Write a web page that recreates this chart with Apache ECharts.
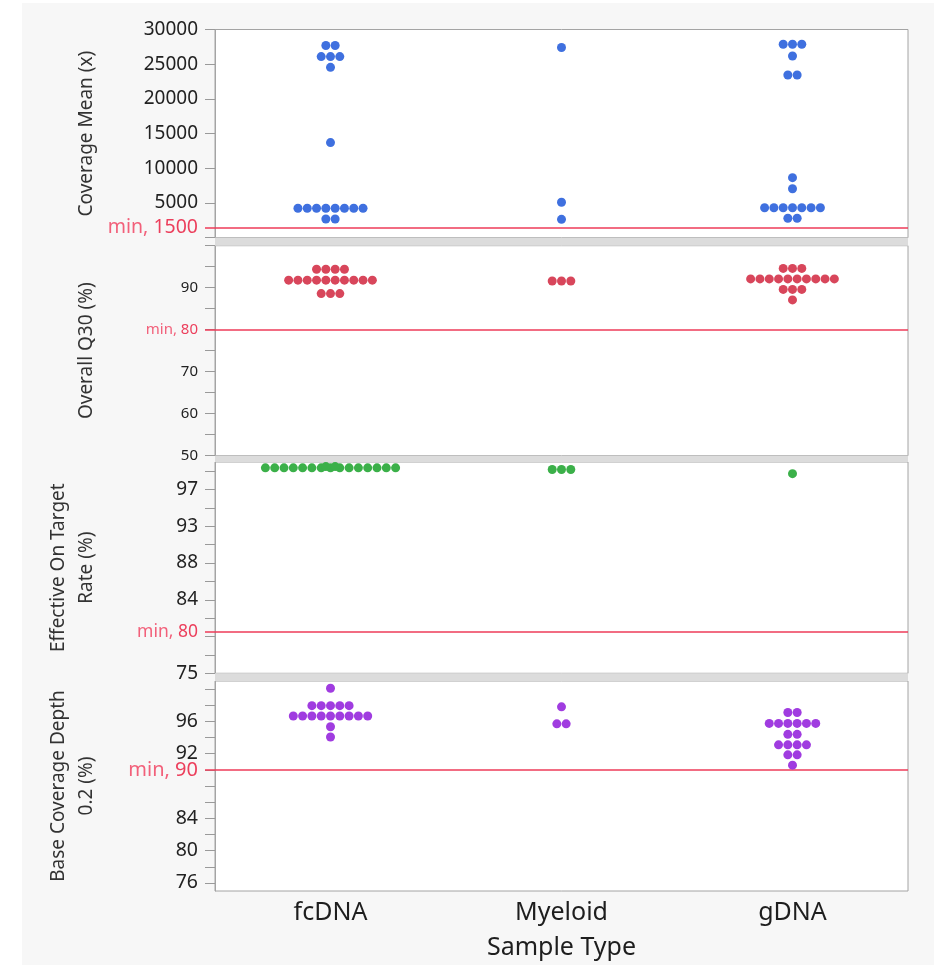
<!DOCTYPE html>
<html>
<head>
<meta charset="utf-8">
<script src="https://cdn.jsdelivr.net/npm/echarts@6/dist/echarts.min.js"></script>
<style>
  html, body { margin: 0; padding: 0; background: #ffffff; }
  #bg { position: absolute; left: 22px; top: 3px; width: 912px; height: 962px; background: #f7f7f7; }
  #chart { position: absolute; left: 0; top: 0; width: 934px; height: 967px; }
</style>
</head>
<body>
<div id="bg"></div>
<div id="chart"></div>
<script>
// ---------------- DATA ----------------
const categories = ['fcDNA', 'Myeloid', 'gDNA'];

// Coverage Mean (x)
const covMeanFcDNA = [27700, 27700, 26100, 26100, 26100, 24550, 13700,
  4240, 4240, 4240, 4240, 4240, 4240, 4240, 4240, 2700, 2700];
const covMeanMyeloid = [27400, 5100, 2650];
const covMeanGDNA = [27870, 27870, 27870, 26180, 23440, 23440, 8650, 7060,
  4320, 4320, 4320, 4320, 4320, 4320, 4320, 2800, 2800];

// Overall Q30 (%)
const q30FcDNA = [94.4, 94.4, 94.4, 94.4,
  91.8, 91.8, 91.8, 91.8, 91.8, 91.8, 91.8, 91.8, 91.8, 91.8,
  88.6, 88.6, 88.6];
const q30Myeloid = [91.6, 91.6, 91.6];
const q30GDNA = [94.6, 94.6, 94.6,
  92.1, 92.1, 92.1, 92.1, 92.1, 92.1, 92.1, 92.1, 92.1, 92.1,
  89.6, 89.6, 89.6, 87.1];

// Effective On Target Rate (%)
const onTargetFcDNA = [99.6, 99.6, 99.6, 99.6, 99.6, 99.6, 99.6, 99.6,
  99.6, 99.6, 99.6, 99.6, 99.6, 99.6, 99.6, 99.75, 99.75];
const onTargetMyeloid = [99.4, 99.4, 99.4];
const onTargetGDNA = [98.9];

// Base Coverage Depth 0.2 (%)
const depthFcDNA = [100.1, 97.95, 97.95, 97.95, 97.95, 97.95,
  96.67, 96.67, 96.67, 96.67, 96.67, 96.67, 96.67, 96.67, 96.67, 95.34, 94.06];
const depthMyeloid = [97.8, 95.7, 95.7];
const depthGDNA = [97.1, 97.1, 95.75, 95.75, 95.75, 95.75, 95.75, 95.75,
  94.4, 94.4, 93.1, 93.1, 93.1, 93.1, 91.86, 91.86, 90.58];

// Minimum thresholds
const covMeanMin = 1500;
const q30Min = 80;
const onTargetMin = 80;
const depthMin = 90;

// Axis ticks and labels
const covMeanTicks = [0, 5000, 10000, 15000, 20000, 25000, 30000];
const covMeanLabels = [5000, 10000, 15000, 20000, 25000, 30000];
const q30Ticks = [50, 55, 60, 65, 70, 75, 80, 85, 90, 95, 100];
const q30Labels = [50, 60, 70, 90];
const onTargetTicks = [75, 77.2, 79.4, 81.6, 83.8, 86, 88.2, 90.4, 92.6, 94.8, 97, 99.2];
const onTargetLabels = [75, 83.8, 88.2, 92.6, 97];
const depthTicks = [76, 78, 80, 82, 84, 86, 88, 90, 92, 94, 96, 98, 100];
const depthLabels = [76, 80, 84, 92, 96];

// ---------------- LAYOUT / STYLE ----------------
const FONT = '"Noto Sans", "Open Sans", sans-serif';
const LEFT = 215, RIGHT = 26;
const panels = [
  { name: 'Coverage Mean (x)', top: 29.5, height: 208.2, min: 0, max: 30000,
    data: [covMeanFcDNA, covMeanMyeloid, covMeanGDNA], thr: covMeanMin,
    ticks: covMeanTicks, labels: covMeanLabels, color: '#3f70df', fs: 19, mfs: 19.5 },
  { name: 'Overall Q30 (%)', top: 245.7, height: 210, min: 50, max: 100,
    data: [q30FcDNA, q30Myeloid, q30GDNA], thr: q30Min,
    ticks: q30Ticks, labels: q30Labels, color: '#d8465b', fs: 15, mfs: 15 },
  { name: 'Effective On Target\nRate (%)', top: 462, height: 211.3, min: 75, max: 100.3,
    data: [onTargetFcDNA, onTargetMyeloid, onTargetGDNA], thr: onTargetMin,
    ticks: onTargetTicks, labels: onTargetLabels, color: '#3bb049', fs: 19, mfs: 17.5 },
  { name: 'Base Coverage Depth\n0.2 (%)', top: 681, height: 210, min: 75, max: 101,
    data: [depthFcDNA, depthMyeloid, depthGDNA], thr: depthMin,
    ticks: depthTicks, labels: depthLabels, color: '#a03ce0', fs: 19.5, mfs: 20 }
];

const DOT_STEP = 9.3;

function swarm(values, catIdx) {
  // group identical values and spread them symmetrically around the category center
  const groups = new Map();
  values.forEach(v => { groups.set(v, (groups.get(v) || 0) + 1); });
  const out = [];
  groups.forEach((n, v) => {
    for (let i = 0; i < n; i++) {
      out.push({ value: [categories[catIdx], v], symbolOffset: [(i - (n - 1) / 2) * DOT_STEP, 0] });
    }
  });
  return out;
}

const grid = [], xAxis = [], yAxis = [], series = [];
panels.forEach((p, i) => {
  grid.push({ left: LEFT, right: RIGHT, top: p.top, height: p.height,
    show: true, backgroundColor: '#ffffff', borderColor: '#a4a4a4', borderWidth: 1 });
  const last = i === panels.length - 1;
  xAxis.push({
    type: 'category', gridIndex: i, data: categories, boundaryGap: true,
    axisLine: { show: false }, axisTick: { show: false }, splitLine: { show: false },
    axisLabel: { show: last, fontSize: 25, color: '#1e1e1e', fontFamily: FONT, margin: 9 },
    name: last ? 'Sample Type' : '', nameLocation: 'middle', nameGap: 44,
    nameTextStyle: { fontSize: 25, color: '#1e1e1e', fontFamily: FONT }
  });
  // main value axis
  yAxis.push({
    type: 'value', gridIndex: i, min: p.min, max: p.max, position: 'left',
    axisLine: { show: true, lineStyle: { color: '#a4a4a4', width: 1 } },
    axisTick: { show: true, customValues: p.ticks, length: 10, lineStyle: { color: '#9a9a9a', width: 1 } },
    axisLabel: { show: true, customValues: p.labels, margin: 17, fontSize: p.fs, color: '#222',
      fontFamily: FONT, formatter: v => String(Math.round(v)) },
    splitLine: { show: false },
    name: p.name, nameLocation: 'middle', nameGap: 114, nameRotate: 90,
    nameTextStyle: { fontSize: 19, color: '#333', fontFamily: FONT, lineHeight: 28, align: 'center' }
  });
  // threshold axis (red tick + "min" label)
  yAxis.push({
    type: 'value', gridIndex: i, min: p.min, max: p.max, position: 'left', offset: 0,
    axisLine: { show: false },
    axisTick: { show: true, customValues: [p.thr], length: 10, lineStyle: { color: '#ee3b58', width: 1.5 } },
    axisLabel: { show: true, customValues: [p.thr], margin: 17, fontFamily: FONT,
      formatter: v => '{a|min, }{b|' + v + '}',
      rich: { a: { fontSize: p.mfs, color: '#f2607a', fontFamily: FONT },
              b: { fontSize: p.mfs, color: '#ec3f5c', fontFamily: FONT } } },
    splitLine: { show: false }
  });
  const data = [];
  p.data.forEach((vals, c) => { swarm(vals, c).forEach(d => data.push(d)); });
  series.push({
    type: 'scatter', xAxisIndex: i, yAxisIndex: i * 2, data: data,
    symbol: 'circle', symbolSize: 9, itemStyle: { color: p.color, opacity: 1 },
    z: 5,
    markLine: {
      silent: true, symbol: 'none', label: { show: false },
      lineStyle: { color: '#ee3b58', width: 1.5, type: 'solid' },
      data: [{ yAxis: p.thr }], z: 3
    }
  });
});

// gray separator bands between panels
const bands = [];
for (let i = 0; i < panels.length - 1; i++) {
  const y0 = panels[i].top + panels[i].height;
  const y1 = panels[i + 1].top;
  bands.push({ type: 'rect', z: 100, silent: true,
    shape: { x: LEFT, y: y0, width: 934 - RIGHT - LEFT, height: y1 - y0 },
    style: { fill: '#dcdcdc' } });
}

const chart = echarts.init(document.getElementById('chart'), null, { renderer: 'canvas' });
chart.setOption({
  backgroundColor: 'transparent',
  animation: false,
  textStyle: { fontFamily: FONT },
  grid: grid, xAxis: xAxis, yAxis: yAxis, series: series,
  graphic: { elements: bands }
});
</script>
</body>
</html>
